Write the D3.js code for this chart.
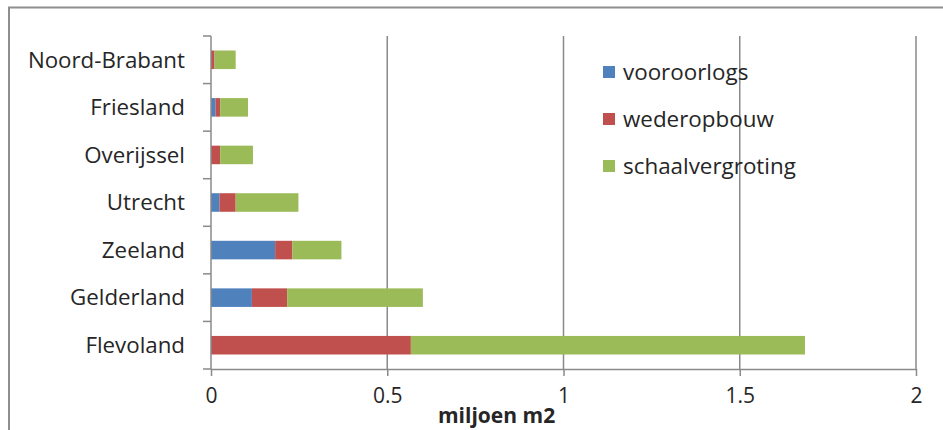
<!DOCTYPE html>
<html>
<head>
<meta charset="utf-8">
<script src="https://cdn.jsdelivr.net/npm/d3@7"></script>
<style>
  html, body { margin: 0; padding: 0; background: #fff; }
  svg { display: block; }
  text { font-family: "Open Sans", "Noto Sans", sans-serif; fill: #262626; }
</style>
</head>
<body>
<svg id="chart" width="943" height="430"></svg>
<script>
// Provinces, top to bottom
const provinces = ["Noord-Brabant", "Friesland", "Overijssel", "Utrecht", "Zeeland", "Gelderland", "Flevoland"];
// Floor area per building period (miljoen m2)
const vooroorlogs      = [0.000, 0.013, 0.000, 0.024, 0.182, 0.116, 0.000];
const wederopbouw      = [0.010, 0.013, 0.026, 0.046, 0.049, 0.100, 0.567];
const schaalvergroting = [0.060, 0.079, 0.093, 0.178, 0.139, 0.385, 1.118];
const seriesNames = ["vooroorlogs", "wederopbouw", "schaalvergroting"];
const seriesColors = ["#4f81bd", "#c0504d", "#9bbb59"];
const xTicks = [0, 0.5, 1, 1.5, 2];
const axisTitle = "miljoen m2";

const svg = d3.select("#chart");
const plot = { left: 211, right: 916, top: 36, bottom: 369 };

// outer chart frame (runs past the window edges)
svg.append("rect")
  .attr("x", 9).attr("y", 7.5)
  .attr("width", 960).attr("height", 450)
  .attr("fill", "none").attr("stroke", "#8e8e8e").attr("stroke-width", 2);

const x = d3.scaleLinear().domain([0, 2]).range([plot.left, plot.right]);
const y = d3.scaleBand().domain(provinces)
  .range([plot.top, plot.bottom])
  .paddingInner(0.61).paddingOuter(0.305);

// vertical gridlines
svg.append("g").selectAll("line")
  .data(xTicks.filter(t => t > 0))
  .join("line")
  .attr("x1", d => x(d)).attr("x2", d => x(d))
  .attr("y1", plot.top).attr("y2", plot.bottom)
  .attr("stroke", "#8a8a8a").attr("stroke-width", 1.5);

// stacked bars
const rows = provinces.map((p, i) => ({
  province: p,
  vooroorlogs: vooroorlogs[i],
  wederopbouw: wederopbouw[i],
  schaalvergroting: schaalvergroting[i]
}));
const stacked = d3.stack().keys(seriesNames)(rows);

svg.append("g").selectAll("g")
  .data(stacked)
  .join("g")
  .attr("fill", (d, i) => seriesColors[i])
  .selectAll("rect")
  .data(d => d)
  .join("rect")
  .attr("x", d => x(d[0]))
  .attr("width", d => x(d[1]) - x(d[0]))
  .attr("y", d => y(d.data.province))
  .attr("height", y.bandwidth());

// x axis
const xAxis = svg.append("g")
  .attr("transform", `translate(0,${plot.bottom})`)
  .call(d3.axisBottom(x).tickValues(xTicks).tickFormat(d3.format("")).tickSizeInner(7).tickSizeOuter(0).tickPadding(12));
xAxis.select(".domain").attr("stroke", "#8a8a8a").attr("stroke-width", 1.5);
xAxis.selectAll(".tick line").attr("stroke", "#8a8a8a").attr("stroke-width", 1.5);
xAxis.selectAll(".tick text")
  .attr("font-size", 21).attr("font-family", "'Open Sans', sans-serif").attr("fill", "#262626");

// y axis: line plus ticks at category boundaries
const yAxisG = svg.append("g");
yAxisG.append("line")
  .attr("x1", plot.left).attr("x2", plot.left)
  .attr("y1", plot.top).attr("y2", plot.bottom)
  .attr("stroke", "#8a8a8a").attr("stroke-width", 1.5);
const step = y.step();
yAxisG.selectAll("line.tick")
  .data(d3.range(provinces.length + 1))
  .join("line")
  .attr("class", "tick")
  .attr("x1", plot.left - 8).attr("x2", plot.left)
  .attr("y1", i => plot.top + i * step).attr("y2", i => plot.top + i * step)
  .attr("stroke", "#8a8a8a").attr("stroke-width", 1.5);
yAxisG.selectAll("text")
  .data(provinces)
  .join("text")
  .attr("x", 185)
  .attr("y", d => y(d) + y.bandwidth() / 2)
  .attr("dy", "0.35em")
  .attr("text-anchor", "end")
  .attr("font-size", 22.3)
  .text(d => d);

// axis title
svg.append("text")
  .attr("x", 438).attr("y", 423)
  .attr("font-size", 21).attr("font-weight", "bold")
  .attr("fill", "#1a1a1a")
  .text(axisTitle);

// legend
const legend = svg.append("g").attr("transform", "translate(603,72)");
const item = legend.selectAll("g")
  .data(seriesNames)
  .join("g")
  .attr("transform", (d, i) => `translate(0,${i * 47})`);
item.append("rect")
  .attr("x", 0).attr("y", -6)
  .attr("width", 12).attr("height", 12)
  .attr("fill", (d, i) => seriesColors[i]);
item.append("text")
  .attr("x", 20).attr("y", 0).attr("dy", "0.35em")
  .attr("font-size", 22.4)
  .text(d => d);
</script>
</body>
</html>
